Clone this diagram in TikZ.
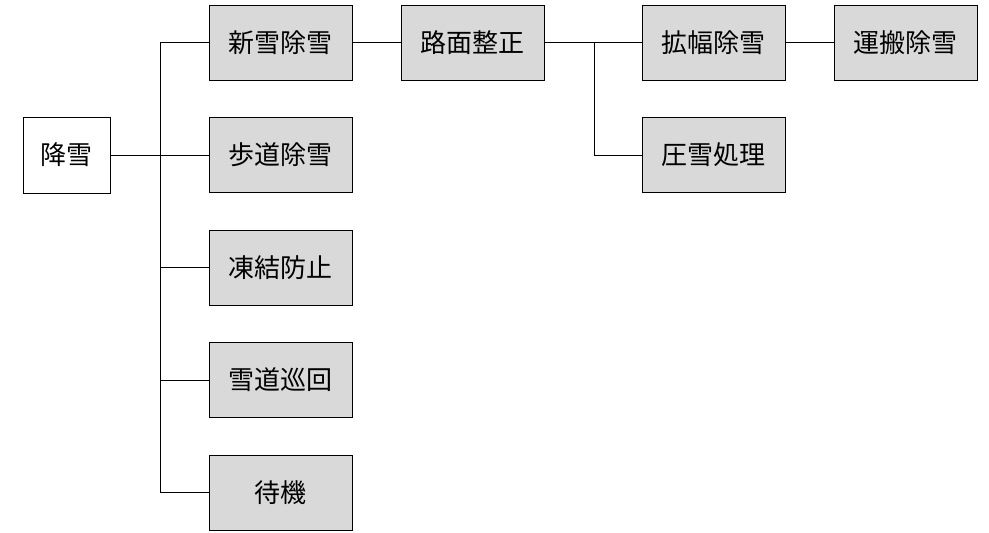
\documentclass[tikz,border=0pt]{standalone}
\usepackage{fontspec}
\setmainfont{Noto Sans CJK JP}
\usetikzlibrary{positioning}
\definecolor{boxgray}{RGB}{217,217,217}

\begin{document}
\begin{tikzpicture}[x=1pt, y=1pt,
      box/.style={rectangle, draw=black, line width=1pt, fill=boxgray,
                  minimum width=143pt, minimum height=75pt, inner sep=0pt,
                  font=\fontsize{26}{30}\selectfont},
      line/.style={line width=1pt, black},
    ]
    \useasboundingbox (0,0) rectangle (989,-533);
    \node[box, fill=white, minimum width=87pt, minimum height=76pt] (fall) at (66.5,-155) {降雪};
    \node[box] (shinsetsu) at (280.5,-42.5) {新雪除雪};
    \node[box, below=36.5pt of shinsetsu] (hodo) {歩道除雪};
    \node[box, below=36.5pt of hodo] (touketsu) {凍結防止};
    \node[box, below=36.5pt of touketsu] (junkai) {雪道巡回};
    \node[box, below=36.5pt of junkai] (taiki) {待機};
    \node[box, right=48pt of shinsetsu] (romen) {路面整正};
    \node[box, right=97pt of romen] (kakufuku) {拡幅除雪};
    \node[box, right=48pt of kakufuku] (unpan) {運搬除雪};
    \node[box, below=36.5pt of kakufuku] (assetsu) {圧雪処理};
    % trunk lines
    \coordinate (trunk) at (160,0);
    \coordinate (branch) at (594,0);
    \draw[line] (fall) -- (hodo);
    \draw[line] (shinsetsu.west) -| (trunk |- taiki.west) -- (taiki.west);
    \foreach \n in {touketsu, junkai}
      \draw[line] (\n.west) -- (trunk |- \n.west);
    \draw[line] (shinsetsu) -- (romen);
    \draw[line] (romen) -- (kakufuku);
    \draw[line] (branch |- romen.east) |- (assetsu.west);
    \draw[line] (kakufuku) -- (unpan);
  \end{tikzpicture}
\end{document}
